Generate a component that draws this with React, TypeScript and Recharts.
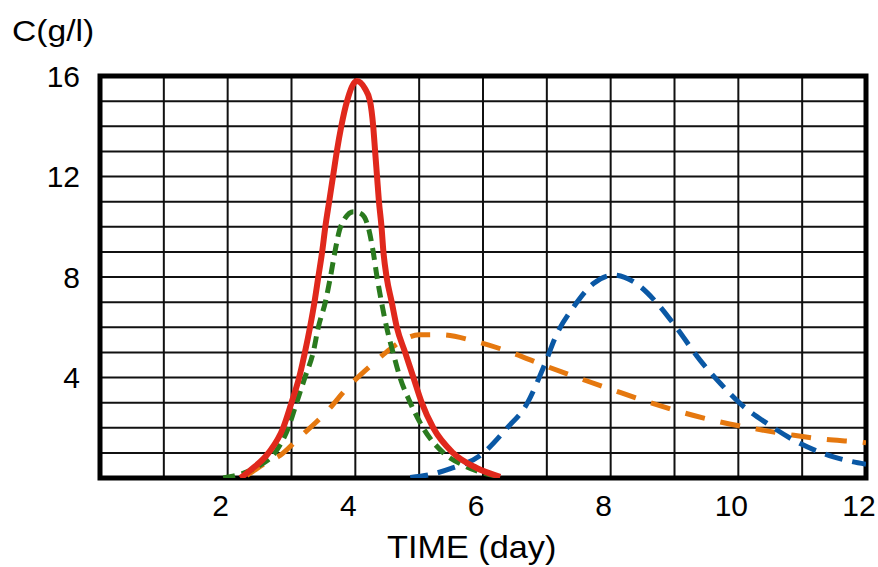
import React from "react";
import {
  LineChart,
  Line,
  XAxis,
  YAxis,
  CartesianGrid,
  ReferenceArea,
} from "recharts";

// ---- data ----
const xTicks = [2, 4, 6, 8, 10, 12];
const yTicks = [4, 8, 12, 16];
const xGrid = [1, 2, 3, 4, 5, 6, 7, 8, 9, 10, 11];
const yGrid = [1, 2, 3, 4, 5, 6, 7, 8, 9, 10, 11, 12, 13, 14, 15];

const redTime = [2.2, 2.35, 2.64, 2.87, 3.0, 3.12, 3.21, 3.29, 3.36, 3.42, 3.48, 3.53, 3.59, 3.65, 3.71, 3.78, 3.87, 4.02, 4.15, 4.23, 4.28, 4.31, 4.34, 4.37, 4.41, 4.44, 4.49, 4.57, 4.65, 4.78, 4.91, 5.04, 5.22, 5.53, 5.9, 6.27];
const redConc = [0, 0.3, 1, 2, 3, 4, 5, 6, 7, 8, 9, 10, 11, 12, 13, 14, 15, 15.8, 15.5, 15, 14, 13, 12, 11, 10, 9, 8, 7, 6, 5, 4, 3, 2, 1, 0.4, 0.05];

const greenTime = [1.93, 2.2, 2.5, 2.74, 2.95, 3.08, 3.21, 3.34, 3.42, 3.53, 3.61, 3.68, 3.77, 3.97, 4.1, 4.2, 4.28, 4.34, 4.41, 4.49, 4.59, 4.7, 4.86, 5.06, 5.38, 5.7, 6.0, 6.3];
const greenConc = [0, 0.15, 0.5, 1, 2, 3, 4, 5, 6, 7, 8, 9, 10, 10.6, 10.5, 10, 9, 8, 7, 6, 5, 4, 3, 2, 1, 0.5, 0.2, 0.05];

const orangeTime = [2.3, 2.59, 2.82, 3.11, 3.53, 3.89, 4.28, 4.49, 4.75, 5.0, 5.33, 5.85, 6.48, 6.95, 7.52, 8.05, 8.67, 9.14, 9.72, 10.24, 10.87, 11.39, 11.91, 12];
const orangeConc = [0.1, 0.59, 0.9, 1.58, 2.58, 3.63, 4.56, 5.02, 5.49, 5.7, 5.7, 5.46, 4.96, 4.49, 3.96, 3.49, 2.96, 2.6, 2.23, 1.97, 1.7, 1.53, 1.43, 1.4];

const blueTime = [4.86, 5.2, 5.49, 5.96, 6.37, 6.69, 6.95, 7.16, 7.42, 7.73, 8.05, 8.36, 8.73, 9.04, 9.4, 9.72, 10.03, 10.45, 10.97, 11.49, 12];
const blueConc = [0.02, 0.15, 0.37, 0.9, 1.97, 2.96, 4.42, 5.75, 6.81, 7.74, 8.08, 7.81, 6.95, 5.95, 4.69, 3.76, 2.96, 2.17, 1.37, 0.84, 0.55];

const toPoints = (t: number[], c: number[]) => t.map((v, i) => ({ t: v, c: c[i] }));

const redData = toPoints(redTime, redConc);
const greenData = toPoints(greenTime, greenConc);
const orangeData = toPoints(orangeTime, orangeConc);
const blueData = toPoints(blueTime, blueConc);

const FONT = "'Liberation Sans', Arial, sans-serif";

const XTick = (props: any) => {
  const { x, y, payload } = props;
  return (
    <text x={x - 7} y={y} dy="0.71em" textAnchor="middle" fontSize={30} fontFamily={FONT} fill="#000">
      {payload.value}
    </text>
  );
};

const YTick = (props: any) => {
  const { x, y, payload } = props;
  return (
    <text x={x} y={y} dy="0.355em" textAnchor="end" fontSize={30} fontFamily={FONT} fill="#000">
      {payload.value}
    </text>
  );
};

export default function App() {
  return (
    <div style={{ position: "relative", width: 878, height: 567, fontFamily: FONT, overflow: "hidden" }}>
      <style>{"body{margin:0}"}</style>
      <div
        style={{
          position: "absolute",
          left: 12,
          top: 16,
          fontSize: 30,
          lineHeight: "30px",
          whiteSpace: "nowrap",
          transform: "scaleX(1.12)",
          transformOrigin: "left top",
          color: "#000",
        }}
      >
        C(g/l)
      </div>
      <div
        style={{
          position: "absolute",
          left: 387,
          top: 531,
          fontSize: 32,
          lineHeight: "32px",
          whiteSpace: "nowrap",
          transform: "scaleX(1.07)",
          transformOrigin: "left top",
          color: "#000",
        }}
      >
        TIME (day)
      </div>
      <LineChart
        width={878}
        height={567}
        margin={{ top: 76, right: 12, left: 40, bottom: 49 }}
      >
        <CartesianGrid
          verticalValues={xGrid}
          horizontalValues={yGrid}
          stroke="#111"
          strokeWidth={2}
        />
        <XAxis
          dataKey="t"
          type="number"
          domain={[0, 12]}
          ticks={xTicks}
          allowDataOverflow
          axisLine={false}
          tickLine={false}
          tickSize={0}
          tickMargin={17}
          height={40}
          tick={<XTick />}
        />
        <YAxis
          type="number"
          domain={[0, 16]}
          ticks={yTicks}
          allowDataOverflow
          axisLine={false}
          tickLine={false}
          tickSize={0}
          tickMargin={20}
          width={60}
          tick={<YTick />}
        />
        <ReferenceArea x1={0} x2={12} y1={0} y2={16} fill="none" fillOpacity={0} stroke="#000" strokeWidth={5} />
        <Line data={orangeData} dataKey="c" type="monotone" stroke="#e5780f" strokeWidth={5} strokeDasharray="20 16" dot={false} isAnimationActive={false} />
        <Line data={blueData} dataKey="c" type="monotone" stroke="#0a58a5" strokeWidth={5} strokeDasharray="18 10" dot={false} isAnimationActive={false} />
        <Line data={greenData} dataKey="c" type="monotone" stroke="#2a7a1e" strokeWidth={5} strokeDasharray="12 7" dot={false} isAnimationActive={false} />
        <Line data={redData} dataKey="c" type="monotone" stroke="#e0281c" strokeWidth={6} dot={false} isAnimationActive={false} />
      </LineChart>
    </div>
  );
}
